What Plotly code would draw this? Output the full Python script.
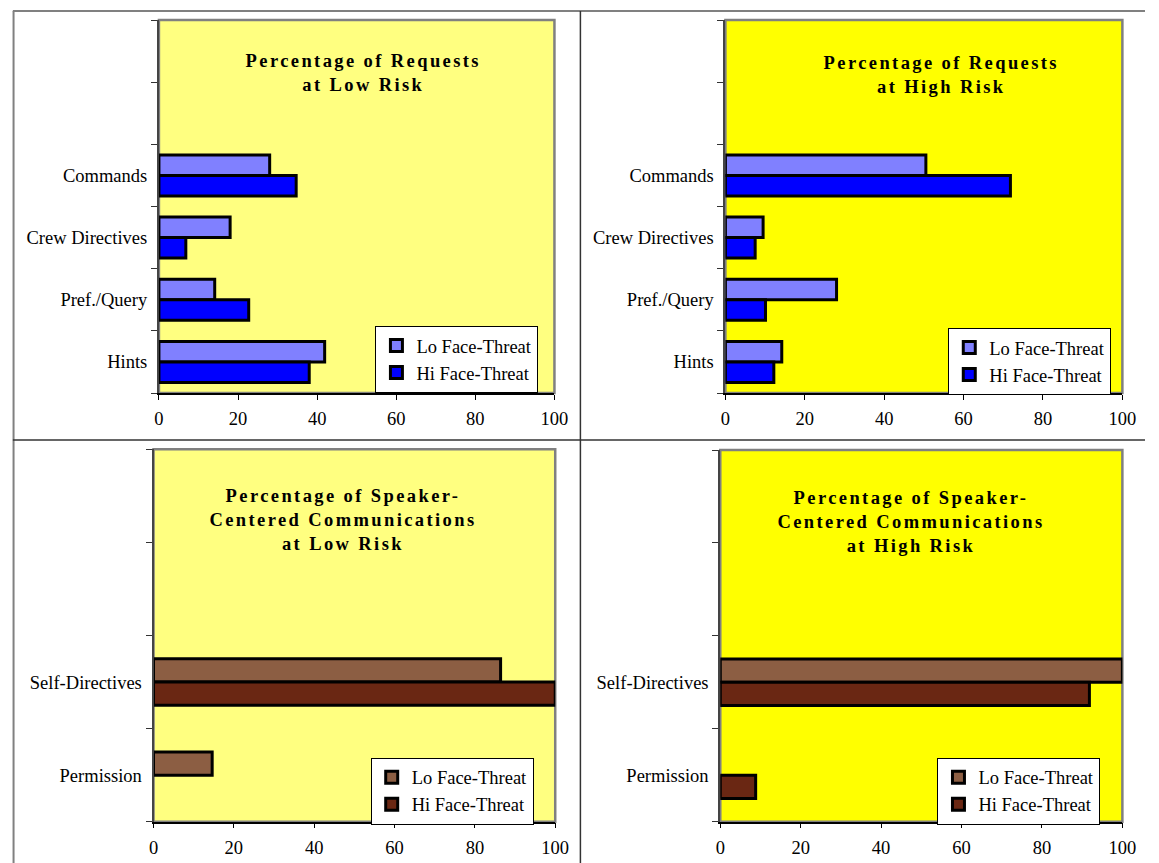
import plotly.graph_objects as go

W, H = 1159, 863

# ---------------- data ----------------
req_categories = ["Hints", "Pref./Query", "Crew Directives", "Commands"]
req_low_risk_lo = [41.9, 14.1, 18.0, 28.0]
req_low_risk_hi = [38.0, 22.7, 6.8, 34.7]
req_high_risk_lo = [14.2, 28.0, 9.5, 50.5]
req_high_risk_hi = [12.2, 10.1, 7.5, 71.8]

sc_categories = ["Permission", "Self-Directives"]
sc_low_risk_lo = [14.6, 86.4]
sc_low_risk_hi = [0, 100]
sc_high_risk_lo = [0, 100]
sc_high_risk_hi = [8.8, 91.8]

series_names = ["Lo Face-Threat", "Hi Face-Threat"]
x_ticks = [0, 20, 40, 60, 80, 100]

titles = [
    "Percentage of Requests<br>at Low Risk",
    "Percentage of Requests<br>at High Risk",
    "Percentage of Speaker-<br>Centered Communications<br>at Low Risk",
    "Percentage of Speaker-<br>Centered Communications<br>at High Risk",
]

# ---------------- styling ----------------
FONT = "Liberation Serif, Times New Roman, serif"
BLUE_LO, BLUE_HI = "#8080FF", "#0000FF"
BROWN_LO, BROWN_HI = "#8C5E43", "#6A2713"
LIGHT_YELLOW, YELLOW = "#FFFF80", "#FFFF00"
BAR_LINE = 3

def px_x(v):
    return v / W

def px_y(v):
    return 1 - v / H

panels = [
    # domain px: x0, x1, y_top, y_bottom
    dict(dom=(156.5, 558.6, 20, 393), bg=LIGHT_YELLOW, cats=req_categories,
         lo=req_low_risk_lo, hi=req_low_risk_hi, colors=(BLUE_LO, BLUE_HI),
         width=0.33, title_xy=(364, 72.5), legend_xy=(376.6, 326)),
    dict(dom=(732.4, 1136, 20, 393), bg=YELLOW, cats=req_categories,
         lo=req_high_risk_lo, hi=req_high_risk_hi, colors=(BLUE_LO, BLUE_HI),
         width=0.33, title_xy=(952, 75), legend_xy=(959, 328)),
    dict(dom=(151, 559.4, 449.3, 821.7), bg=LIGHT_YELLOW, cats=sc_categories,
         lo=sc_low_risk_lo, hi=sc_low_risk_hi, colors=(BROWN_LO, BROWN_HI),
         width=0.25, title_xy=(344, 519.5), legend_xy=(371.8, 757.7)),
    dict(dom=(727.2, 1136, 450, 821.7), bg=YELLOW, cats=sc_categories,
         lo=sc_high_risk_lo, hi=sc_high_risk_hi, colors=(BROWN_LO, BROWN_HI),
         width=0.25, title_xy=(921, 521.7), legend_xy=(948, 757.7)),
]

fig = go.Figure()
layout = dict(
    width=W, height=H,
    margin=dict(l=0, r=0, t=0, b=0),
    paper_bgcolor="white",
    barmode="overlay",
    font=dict(family=FONT, size=18.5, color="black"),
    shapes=[], annotations=[],
    showlegend=True,
)

for i, p in enumerate(panels, start=1):
    sfx = "" if i == 1 else str(i)
    xa, ya = "x" + sfx, "y" + sfx
    leg = "legend" if i == 1 else "legend" + str(i)
    blanks = [" ", "  "]
    cat_order = p["cats"] + blanks
    for name, vals, col, off in [
        (series_names[0], p["lo"], p["colors"][0], 0.0),
        (series_names[1], p["hi"], p["colors"][1], -p["width"]),
    ]:
        shown = [v if v else None for v in vals]  # zero -> no visible bar
        fig.add_trace(go.Bar(
            x=shown, y=p["cats"], orientation="h", name=name,
            marker=dict(color=col, line=dict(color="black", width=BAR_LINE)),
            width=p["width"], offset=off,
            xaxis=xa, yaxis=ya, legend=leg, hoverinfo="x+y",
        ))
    x0, x1, yt, yb = p["dom"]
    layout["xaxis" + sfx] = dict(
        domain=[px_x(x0), px_x(x1)], anchor=ya, range=[0, 100],
        tickvals=x_ticks, ticks="outside", ticklen=5, tickcolor="black",
        showline=True, linecolor="black", linewidth=1.5, showgrid=False,
        zeroline=False, tickfont=dict(family=FONT, size=18.5),
        ticklabelstandoff=3, fixedrange=True,
    )
    layout["yaxis" + sfx] = dict(
        domain=[px_y(yb), px_y(yt)], anchor=xa, type="category",
        categoryorder="array", categoryarray=cat_order,
        range=[-0.5, len(cat_order) - 0.5],
        tickson="boundaries", ticks="outside", ticklen=6, tickcolor="#333333",
        showline=True, linecolor="#444444", linewidth=2, showgrid=False,
        tickfont=dict(family=FONT, size=18.5), ticklabelstandoff=6,
        fixedrange=True,
    )
    # plot area background + grey frame
    layout["shapes"].append(dict(
        type="rect", xref=xa + " domain", yref=ya + " domain",
        x0=0, x1=1, y0=0, y1=1, fillcolor=p["bg"],
        line=dict(color="#808080", width=2.5), layer="below",
    ))
    tx, ty = p["title_xy"]
    layout["annotations"].append(dict(
        text="<b>" + titles[i - 1] + "</b>", xref="paper", yref="paper",
        x=px_x(tx), y=px_y(ty), xanchor="center", yanchor="middle",
        showarrow=False, align="center",
        font=dict(family=FONT, size=18.5, color="black"),
    ))
    lx, ly = p["legend_xy"]
    layout[leg] = dict(
        x=px_x(lx), y=px_y(ly), xanchor="left", yanchor="top",
        bgcolor="white", bordercolor="black", borderwidth=1,
        font=dict(family=FONT, size=18.5), traceorder="normal",
        tracegroupgap=0, itemwidth=30,
    )

# table grid lines
grid = [
    dict(x0=8, x1=W, y0=11, y1=11, c="#808080", w=2),
    dict(x0=8.7, x1=8.7, y0=11, y1=H, c="#808080", w=2),
    dict(x0=585, x1=585, y0=11, y1=H, c="#333333", w=1.5),
    dict(x0=8, x1=W, y0=440, y1=440, c="#333333", w=1.5),
]
for g in grid:
    layout["shapes"].append(dict(
        type="line", xref="paper", yref="paper",
        x0=px_x(g["x0"]), x1=px_x(g["x1"]), y0=px_y(g["y0"]), y1=px_y(g["y1"]),
        line=dict(color=g["c"], width=g["w"]),
    ))

fig.update_layout(**layout)

post = """
document.body.style.margin = '0';
document.body.style.overflow = 'hidden';
document.querySelectorAll('.annotation-text').forEach(function(e){
  e.style.letterSpacing = '2.4px';
});
"""
fig.write_html("out.html", post_script=post,
               config={"displayModeBar": False})
